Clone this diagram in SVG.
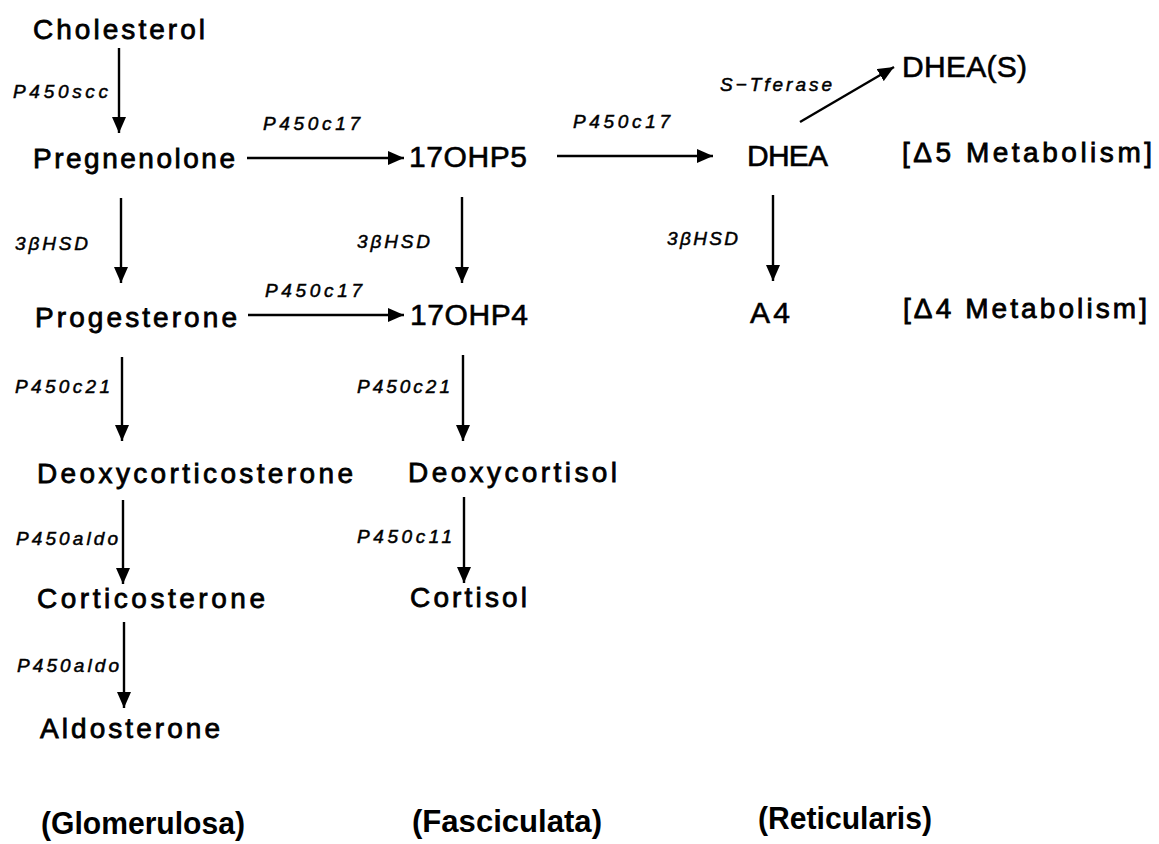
<svg xmlns="http://www.w3.org/2000/svg" width="1159" height="844" viewBox="0 0 1159 844">
<style>
.n{font-family:"Liberation Sans",Arial,sans-serif;font-size:28px;fill:#000;stroke:#000;stroke-width:0.8}
.b{font-family:"Liberation Sans",Arial,sans-serif;font-size:30px;fill:#000;stroke:#000;stroke-width:0.6}
.e{font-family:"Liberation Sans",Arial,sans-serif;font-size:19px;font-style:italic;fill:#000;stroke:#000;stroke-width:0.5}
.z{font-family:"Liberation Sans",Arial,sans-serif;font-size:31px;font-weight:bold;fill:#000}
.c line{stroke:#000;stroke-width:2.4;marker-end:url(#ah)}
</style>
<defs>
<marker id="ah" markerUnits="userSpaceOnUse" markerWidth="17" markerHeight="14" refX="16" refY="7" orient="auto">
<path d="M0,0 L16,7 L0,14 z" fill="#000"/>
</marker>
</defs>
<g class="c" id="connectors">
<line x1="119" y1="48" x2="119" y2="133"/>
<line x1="247" y1="158" x2="404" y2="158"/>
<line x1="557" y1="156" x2="713" y2="156"/>
<line x1="800" y1="122" x2="894" y2="67"/>
<line x1="121" y1="198" x2="121" y2="283"/>
<line x1="462" y1="197" x2="462" y2="283"/>
<line x1="773" y1="195" x2="773" y2="281"/>
<line x1="248" y1="315" x2="404" y2="315"/>
<line x1="122" y1="357" x2="122" y2="441"/>
<line x1="463" y1="355" x2="463" y2="441"/>
<line x1="123" y1="500" x2="123" y2="584"/>
<line x1="464" y1="497" x2="464" y2="583"/>
<line x1="124" y1="622" x2="124" y2="708"/>
</g>
<g id="labels">
<text class="e" x="13" y="98" textLength="95" lengthAdjust="spacing">P450scc</text>
<text class="e" x="263" y="130" textLength="97" lengthAdjust="spacing">P450c17</text>
<text class="e" x="573" y="128" textLength="97" lengthAdjust="spacing">P450c17</text>
<text class="e" x="720" y="91" textLength="112" lengthAdjust="spacing">S−Tferase</text>
<text class="e" x="15" y="250" textLength="73" lengthAdjust="spacing">3βHSD</text>
<text class="e" x="357" y="248" textLength="73" lengthAdjust="spacing">3βHSD</text>
<text class="e" x="667" y="245" textLength="71" lengthAdjust="spacing">3βHSD</text>
<text class="e" x="265" y="297" textLength="97" lengthAdjust="spacing">P450c17</text>
<text class="e" x="15" y="393" textLength="95" lengthAdjust="spacing">P450c21</text>
<text class="e" x="357" y="393" textLength="93" lengthAdjust="spacing">P450c21</text>
<text class="e" x="16" y="545" textLength="102" lengthAdjust="spacing">P450aldo</text>
<text class="e" x="357" y="543" textLength="95" lengthAdjust="spacing">P450c11</text>
<text class="e" x="17" y="672" textLength="102" lengthAdjust="spacing">P450aldo</text>
</g>
<g id="cholesterol"><text class="n" x="33" y="39" textLength="172" lengthAdjust="spacing">Cholesterol</text></g>
<g id="pregnenolone"><text class="n" x="33" y="168" textLength="202" lengthAdjust="spacing">Pregnenolone</text></g>
<g id="oh17p5"><text class="b" x="409" y="167" textLength="118" lengthAdjust="spacing">17OHP5</text></g>
<g id="dhea"><text class="b" x="747" y="166" textLength="81" lengthAdjust="spacing">DHEA</text></g>
<g id="dheas"><text class="b" x="902" y="77" textLength="125" lengthAdjust="spacing">DHEA(S)</text></g>
<g id="d5"><text class="n" x="902" y="162" textLength="250" lengthAdjust="spacing">[Δ5  Metabolism]</text></g>
<g id="progesterone"><text class="n" x="35" y="327" textLength="202" lengthAdjust="spacing">Progesterone</text></g>
<g id="oh17p4"><text class="b" x="410" y="325" textLength="118" lengthAdjust="spacing">17OHP4</text></g>
<g id="a4"><text class="b" x="750" y="323" textLength="40" lengthAdjust="spacing">A4</text></g>
<g id="d4"><text class="n" x="903" y="318" textLength="244" lengthAdjust="spacing">[Δ4  Metabolism]</text></g>
<g id="deoxycorticosterone"><text class="n" x="37" y="483" textLength="316" lengthAdjust="spacing">Deoxycorticosterone</text></g>
<g id="deoxycortisol"><text class="n" x="408" y="482" textLength="209" lengthAdjust="spacing">Deoxycortisol</text></g>
<g id="corticosterone"><text class="n" x="37" y="608" textLength="228" lengthAdjust="spacing">Corticosterone</text></g>
<g id="cortisol"><text class="n" x="410" y="607" textLength="117" lengthAdjust="spacing">Cortisol</text></g>
<g id="aldosterone"><text class="n" x="40" y="738" textLength="180" lengthAdjust="spacing">Aldosterone</text></g>
<g id="zones">
<text class="z" x="41" y="834" textLength="204" lengthAdjust="spacingAndGlyphs">(Glomerulosa)</text>
<text class="z" x="412" y="832" textLength="190" lengthAdjust="spacingAndGlyphs">(Fasciculata)</text>
<text class="z" x="758" y="829" textLength="174" lengthAdjust="spacingAndGlyphs">(Reticularis)</text>
</g>
</svg>
